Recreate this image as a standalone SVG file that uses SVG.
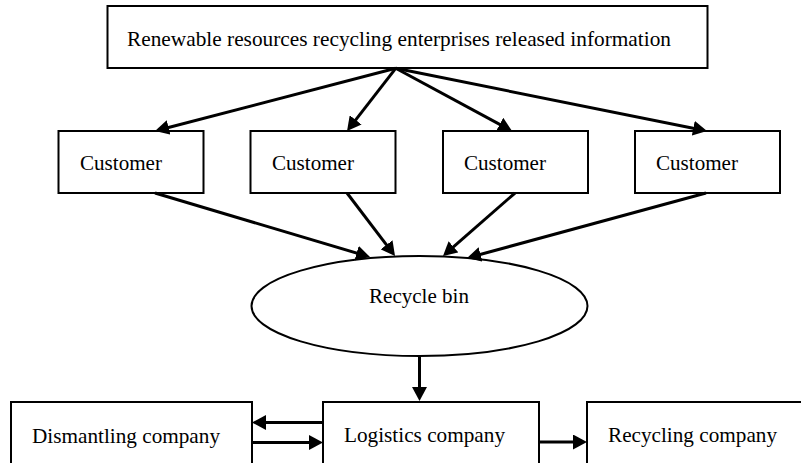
<svg xmlns="http://www.w3.org/2000/svg" width="801" height="463" viewBox="0 0 801 463">
<style>
.box{fill:#fff;stroke:#000;stroke-width:2}
.t{font-family:"Liberation Serif","Times New Roman",serif;font-size:22px;fill:#000}
.c{stroke:#000;stroke-width:3;fill:none;marker-end:url(#ah)}
</style>
<defs>
<marker id="ah" markerUnits="userSpaceOnUse" markerWidth="14" markerHeight="15" refX="10" refY="7.5" orient="auto">
<path d="M0,0 L14,7.5 L0,15 z" fill="#000"/>
</marker>
</defs>
<rect width="801" height="463" fill="#fff"/>
<g id="top">
<rect class="box" x="107.5" y="6" width="600" height="62"/>
<text class="t" x="127" y="46" textLength="544" lengthAdjust="spacingAndGlyphs">Renewable resources recycling enterprises released information</text>
</g>
<g id="customer1">
<rect class="box" x="58.5" y="131" width="145" height="62"/>
<text class="t" x="80" y="170" textLength="82" lengthAdjust="spacingAndGlyphs">Customer</text>
</g>
<g id="customer2">
<rect class="box" x="250.5" y="131" width="145" height="62"/>
<text class="t" x="272" y="170" textLength="82" lengthAdjust="spacingAndGlyphs">Customer</text>
</g>
<g id="customer3">
<rect class="box" x="443" y="131" width="145" height="62"/>
<text class="t" x="464" y="170" textLength="82" lengthAdjust="spacingAndGlyphs">Customer</text>
</g>
<g id="customer4">
<rect class="box" x="635" y="131" width="145" height="62"/>
<text class="t" x="656" y="170" textLength="82" lengthAdjust="spacingAndGlyphs">Customer</text>
</g>
<g id="recyclebin">
<ellipse class="box" cx="419.5" cy="306" rx="168" ry="50"/>
<text class="t" x="369" y="303" textLength="100" lengthAdjust="spacingAndGlyphs">Recycle bin</text>
</g>
<g id="dismantling">
<rect class="box" x="11" y="402" width="241" height="80"/>
<text class="t" x="32" y="443" textLength="188" lengthAdjust="spacingAndGlyphs">Dismantling company</text>
</g>
<g id="logistics">
<rect class="box" x="323" y="402" width="216" height="80"/>
<text class="t" x="344" y="442" textLength="161" lengthAdjust="spacingAndGlyphs">Logistics company</text>
</g>
<g id="recycling">
<rect class="box" x="587" y="402" width="250" height="80"/>
<text class="t" x="608" y="442" textLength="169" lengthAdjust="spacingAndGlyphs">Recycling company</text>
</g>
<g id="connectors">
<line class="c" x1="395.7" y1="68.3" x2="158.9" y2="130"/>
<line class="c" x1="395.7" y1="68.3" x2="349.5" y2="127.8"/>
<line class="c" x1="395.7" y1="68.3" x2="508.5" y2="129.1"/>
<line class="c" x1="395.7" y1="68.3" x2="703.1" y2="130.2"/>
<line class="c" x1="155" y1="193" x2="366.2" y2="255.9"/>
<line class="c" x1="347" y1="193" x2="392.6" y2="252.8"/>
<line class="c" x1="515" y1="193" x2="446" y2="253.4"/>
<line class="c" x1="706" y1="193" x2="470.9" y2="257"/>
<line class="c" x1="419.5" y1="356" x2="419.5" y2="397"/>
<line class="c" x1="323" y1="422.5" x2="256" y2="422.5"/>
<line class="c" x1="252" y1="442.5" x2="319" y2="442.5"/>
<line class="c" x1="539" y1="442" x2="583" y2="442"/>
</g>
</svg>
